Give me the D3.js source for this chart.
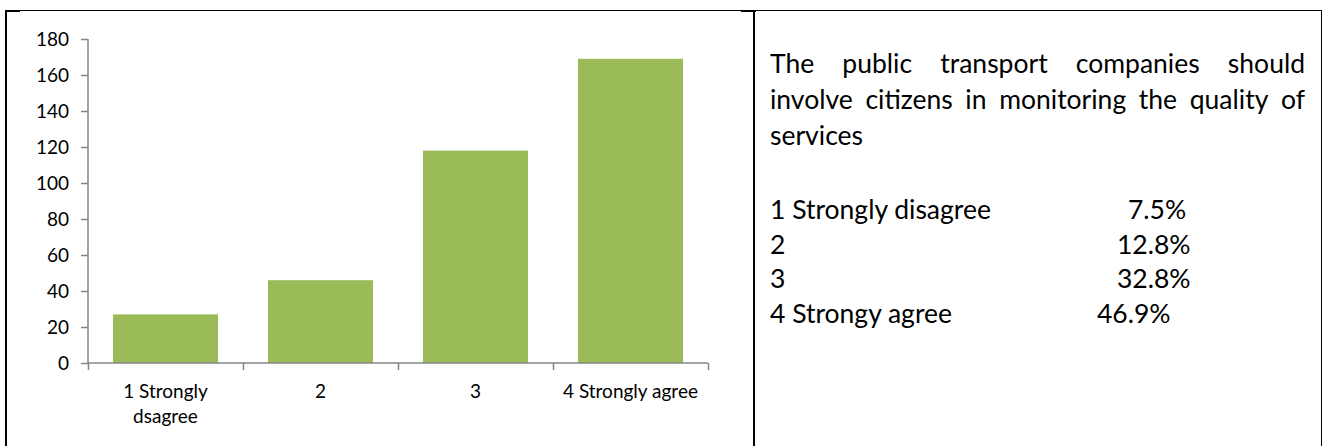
<!DOCTYPE html>
<html lang="en">
<head>
<meta charset="UTF-8">
<title>Public transport survey</title>
<script src="https://cdn.jsdelivr.net/npm/d3@7"></script>
<style>
  html, body { margin: 0; padding: 0; background: #fff; }
  svg { display: block; }
  text { font-family: Lato, "Open Sans", sans-serif; fill: #000; }
</style>
</head>
<body>
<script>
    // data
    var categories = ["1 Strongly dsagree", "2", "3", "4 Strongly agree"];
    var categoryLines = [["1 Strongly", "dsagree"], ["2"], ["3"], ["4 Strongly agree"]];
    var counts = [27, 46, 118, 169];
    var yTicks = [0, 20, 40, 60, 80, 100, 120, 140, 160, 180];

    var titleLines = [
        "The public transport companies should",
        "involve citizens in monitoring the quality of",
        "services"
    ];
    var answerLabels = ["1 Strongly disagree", "2", "3", "4 Strongy agree"];
    var answerShares = ["7.5%", "12.8%", "32.8%", "46.9%"];

    var width = 1322, height = 446;
    var svg = d3.select("body").append("svg")
        .attr("width", width)
        .attr("height", height);

    // table frame
    var frame = svg.append("g").attr("fill", "none").attr("stroke", "#000");
    frame.append("line").attr("x1", 5).attr("x2", 1322).attr("y1", 10.5).attr("y2", 10.5).attr("stroke-width", 1);
    frame.append("line").attr("x1", 5).attr("x2", 20).attr("y1", 11).attr("y2", 11).attr("stroke-width", 2);
    frame.append("line").attr("x1", 741).attr("x2", 756).attr("y1", 11).attr("y2", 11).attr("stroke-width", 2);
    frame.append("line").attr("x1", 6).attr("x2", 6).attr("y1", 10).attr("y2", height).attr("stroke-width", 2);
    frame.append("line").attr("x1", 754).attr("x2", 754).attr("y1", 10).attr("y2", height).attr("stroke-width", 2);
    frame.append("line").attr("x1", 1321.5).attr("x2", 1321.5).attr("y1", 10).attr("y2", height).attr("stroke-width", 1);

    // chart
    var plot = {left: 88, right: 708, top: 39, bottom: 363};
    var axisColor = "#868686";
    var labelSize = 19;

    var xScale = d3.scaleBand()
        .domain(categories)
        .range([plot.left, plot.right])
        .paddingInner(0.3226)
        .paddingOuter(0.1613);
    var yScale = d3.scaleLinear()
        .domain([0, d3.max(yTicks)])
        .range([plot.bottom, plot.top]);

    // bars
    svg.append("g").selectAll("rect")
        .data(counts)
        .enter().append("rect")
        .attr("x", function(d, i) { return xScale(categories[i]); })
        .attr("y", function(d) { return yScale(d); })
        .attr("width", xScale.bandwidth())
        .attr("height", function(d) { return yScale(0) - yScale(d); })
        .attr("fill", "#9BBB59");

    // y axis
    var yAxis = d3.axisLeft(yScale).tickValues(yTicks).tickSize(7).tickPadding(12);
    var gy = svg.append("g")
        .attr("transform", "translate(" + plot.left + ",0)")
        .call(yAxis);
    gy.select(".domain").attr("stroke", axisColor).attr("stroke-width", 1.5).attr("d", "M0," + plot.top + "V" + plot.bottom);
    gy.selectAll(".tick line").attr("stroke", axisColor).attr("stroke-width", 1.5);
    gy.selectAll(".tick text").attr("font-size", labelSize).attr("font-family", "Lato").attr("fill", "#000");

    // x axis: ticks between categories
    var edgeScale = d3.scaleLinear().domain([0, categories.length]).range([plot.left, plot.right]);
    var gx = svg.append("g")
        .attr("transform", "translate(0," + plot.bottom + ")")
        .call(d3.axisBottom(edgeScale).tickValues(d3.range(categories.length + 1)).tickSize(7).tickFormat(""));
    gx.select(".domain").attr("stroke", axisColor).attr("stroke-width", 1.5).attr("d", "M" + plot.left + ",0H" + plot.right);
    gx.selectAll(".tick line").attr("stroke", axisColor).attr("stroke-width", 1.5);

    // category labels
    var labels = svg.append("g").selectAll("text")
        .data(categories)
        .enter().append("text")
        .attr("text-anchor", "middle")
        .attr("font-size", labelSize)
        .attr("x", function(d) { return xScale(d) + xScale.bandwidth() / 2; })
        .attr("y", 398);
    labels.each(function(d, i) {
        d3.select(this).selectAll("tspan")
            .data(categoryLines[i])
            .enter().append("tspan")
            .attr("x", xScale(d) + xScale.bandwidth() / 2)
            .attr("dy", function(t, j) { return j === 0 ? 0 : 25; })
            .text(function(t) { return t; });
    });

    // text cell
    var textLeft = 770, textRight = 1305, fontSize = 26.5;
    var para = svg.append("g").attr("font-size", fontSize);
    titleLines.forEach(function(line, li) {
        var y = 73 + li * 36;
        var words = line.split(" ");
        var ws = para.selectAll(null).data(words).enter().append("text")
            .attr("y", y)
            .text(function(w) { return w; });
        var widths = [];
        ws.each(function() { widths.push(this.getComputedTextLength()); });
        var justify = li < titleLines.length - 1;
        var gap = justify ? (textRight - textLeft - d3.sum(widths)) / (words.length - 1) : fontSize * 0.25;
        var x = textLeft;
        ws.attr("x", function(w, i) { var cx = x; x += widths[i] + gap; return cx; });
    });

    var pctX = [1128, 1117, 1117, 1097];
    var rows = svg.append("g").attr("font-size", fontSize);
    rows.selectAll(".lab").data(answerLabels).enter().append("text")
        .attr("class", "lab")
        .attr("x", textLeft)
        .attr("y", function(d, i) { return 219 + i * 34.5; })
        .text(function(d) { return d; });
    rows.selectAll(".pct").data(answerShares).enter().append("text")
        .attr("class", "pct")
        .attr("x", function(d, i) { return pctX[i]; })
        .attr("y", function(d, i) { return 219 + i * 34.5; })
        .text(function(d) { return d; });
</script>
</body>
</html>
